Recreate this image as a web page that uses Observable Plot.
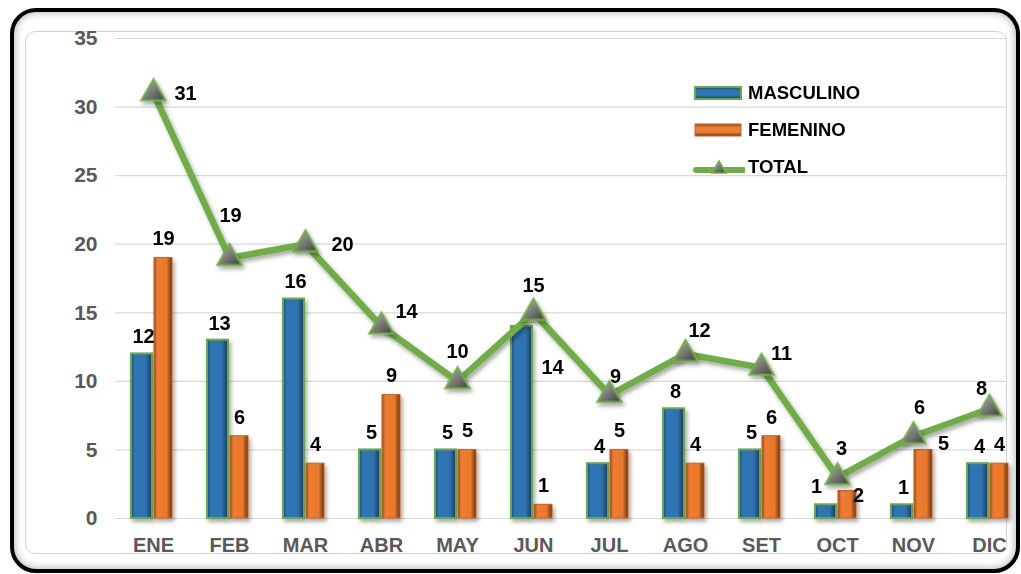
<!DOCTYPE html>
<html><head><meta charset="utf-8">
<script src="https://cdn.jsdelivr.net/npm/d3@7"></script>
<script src="https://cdn.jsdelivr.net/npm/@observablehq/plot@0.6"></script>
<style>
html,body{margin:0;padding:0;background:#fff;}
#wrap{position:relative;width:1021px;height:574px;overflow:hidden;font-family:"Liberation Sans",Arial,sans-serif;background:#fff;}
#outer{position:absolute;left:10px;top:8px;width:1002px;height:557px;border:4px solid #000;border-radius:26px;box-shadow:inset 0 0 8px rgba(0,0,0,0.35);}
#inner{position:absolute;left:25px;top:31px;width:980px;height:521px;border:1px solid #d0d0d0;border-radius:10px;}
#chart{position:absolute;left:0;top:0;}
#legend{position:absolute;left:693px;top:74px;font-weight:bold;font-size:18.5px;color:#000;}
.li{display:flex;align-items:center;height:37px;}
.li svg{margin-right:3px;}
</style>
</head><body>
<div id="wrap">
  <div id="outer"></div>
  <div id="inner"></div>
  <div id="chart"></div>
  <div id="legend"></div>
</div>
<script>
const months = ["ENE","FEB","MAR","ABR","MAY","JUN","JUL","AGO","SET","OCT","NOV","DIC"];
const masculino = [12,13,16,5,5,14,4,8,5,1,1,4];
const femenino  = [19,6,4,9,5,1,5,4,6,2,5,4];
const total     = [31,19,20,14,10,15,9,12,11,3,6,8];
const yTicks = [0,5,10,15,20,25,30,35];
const seriesNames = ["MASCULINO","FEMENINO","TOTAL"];

// label offsets (style only)
const totalOffsets = [[32,0],[1,-42],[37,0],[25,-15],[0,-30],[0,-27],[6,-18],[14,-23],[20,-14],[4,-29],[6,-29],[-8,-20]];
const mascOffsets = months.map((m,i)=> i===5 ? [29,41] : i===9 ? [-11,-18] : [0,-17]);
const femOffsets  = months.map((m,i)=> i===9 ? [11,5] : i===10 ? [20,-6] : [0,-19]);

const font = "'Liberation Sans', Arial, sans-serif";
const rows = months.map((m,i)=>({m, masc: masculino[i], fem: femenino[i], total: total[i]}));

const labelMarks = [];
rows.forEach((d,i)=>{
  labelMarks.push(Plot.text([d],{x:"m", y:"masc", text:d=>String(d.masc), dx: -10 + mascOffsets[i][0], dy: mascOffsets[i][1], fill:"#000", fontSize:20, fontWeight:"bold"}));
  labelMarks.push(Plot.text([d],{x:"m", y:"fem", text:d=>String(d.fem), dx: 10 + femOffsets[i][0], dy: femOffsets[i][1], fill:"#000", fontSize:20, fontWeight:"bold"}));
  labelMarks.push(Plot.text([d],{x:"m", y:"total", text:d=>String(d.total), dx: totalOffsets[i][0], dy: totalOffsets[i][1], fill:"#000", fontSize:20, fontWeight:"bold"}));
});

const chart = Plot.plot({
  width: 1021,
  height: 574,
  marginLeft: 115,
  marginRight: 14,
  marginTop: 38,
  marginBottom: 56,
  style: {fontFamily: font, background: "transparent", color: "#595959", overflow: "visible"},
  x: {domain: months, range: [115, 1027], padding: 0, label: null},
  y: {domain: [0, 35], label: null},
  marks: [
    Plot.gridY(yTicks, {stroke: "#d9d9d9", strokeOpacity: 1, strokeWidth: 1.2}),
    Plot.ruleY([0], {stroke: "#d0d0d0", strokeWidth: 2.5}),
    Plot.axisY(yTicks, {tickSize: 0, tickPadding: 18, fontSize: 21, fontWeight: "bold", fill: "#595959", label: null}),
    Plot.axisX({tickSize: 0, tickPadding: 19, fontSize: 20, fontWeight: "bold", fill: "#595959", label: null}),
    Plot.barY(rows, {x: "m", y: "masc", insetLeft: 16, insetRight: 39, fill: "url(#gBlue)", stroke: "#6aa843", strokeWidth: 2}),
    Plot.barY(rows, {x: "m", y: "fem", insetLeft: 39, insetRight: 19, fill: "url(#gOrange)", stroke: "#c0652a", strokeWidth: 1}),
    Plot.line(rows, {x: "m", y: "total", stroke: "#70ad47", strokeWidth: 6.5, strokeLinejoin: "round", strokeLinecap: "round"}),
    Plot.dot(rows, {x: "m", y: "total", symbol: "triangle", r: 9, fill: "url(#gTri)", stroke: "#70ad47", strokeWidth: 2}),
    ...labelMarks
  ]
});

// gradients & shadow filter
const svg = d3.select(chart);
const defs = svg.insert("defs", ":first-child");
function grad(id, stops){
  const g = defs.append("linearGradient").attr("id", id).attr("x1","0").attr("x2","1").attr("y1","0").attr("y2","0");
  stops.forEach(([o,c])=>g.append("stop").attr("offset",o).attr("stop-color",c));
}
grad("gBlue", [["0%","#1d4a75"],["18%","#2e75b6"],["70%","#2f72b0"],["100%","#163a5c"]]);
grad("gOrange", [["0%","#9b4813"],["18%","#ed7d31"],["70%","#e9782c"],["100%","#6e340c"]]);
const gt = defs.append("linearGradient").attr("id","gTri").attr("x1","0").attr("x2","1").attr("y1","0").attr("y2","1");
gt.append("stop").attr("offset","0%").attr("stop-color","#b8b8b8");
gt.append("stop").attr("offset","100%").attr("stop-color","#3e3e3e");
const f = defs.append("filter").attr("id","shadow").attr("x","-20%").attr("y","-20%").attr("width","140%").attr("height","140%");
f.append("feDropShadow").attr("dx",2).attr("dy",3).attr("stdDeviation",2).attr("flood-color","#000").attr("flood-opacity",0.35);
svg.selectAll("g[aria-label='line'], g[aria-label='bar'], g[aria-label='dot'], g[aria-label='rule']").attr("filter","url(#shadow)");

document.getElementById("chart").appendChild(chart);

// legend
const legend = d3.select("#legend");
const colors = {MASCULINO: ["url(#lgBlue)","#6aa843"], FEMENINO: ["url(#lgOrange)","#c0652a"]};
seriesNames.forEach(name=>{
  const item = legend.append("div").attr("class","li");
  const s = item.append("svg").attr("width",52).attr("height",20);
  if (name === "TOTAL") {
    s.append("line").attr("x1",3).attr("x2",50).attr("y1",13).attr("y2",13).attr("stroke","#70ad47").attr("stroke-width",6).attr("stroke-linecap","round");
    s.append("path").attr("d","M26,4 L33,16 L19,16 Z").attr("fill","url(#gTri)").attr("stroke","#70ad47").attr("stroke-width",1.5);
  } else {
    const ld = s.append("defs");
    const g = ld.append("linearGradient").attr("id", name==="MASCULINO"?"lgBlue":"lgOrange").attr("x1","0").attr("x2","0").attr("y1","0").attr("y2","1");
    const cs = name==="MASCULINO" ? ["#1d4a75","#2e75b6","#163a5c"] : ["#9b4813","#ed7d31","#6e340c"];
    g.append("stop").attr("offset","0%").attr("stop-color",cs[0]);
    g.append("stop").attr("offset","30%").attr("stop-color",cs[1]);
    g.append("stop").attr("offset","70%").attr("stop-color",cs[1]);
    g.append("stop").attr("offset","100%").attr("stop-color",cs[2]);
    s.append("rect").attr("x",2).attr("y",4).attr("width",46).attr("height",12).attr("fill",colors[name][0]).attr("stroke",colors[name][1]).attr("stroke-width",name==="MASCULINO"?2:1);
  }
  item.append("span").text(name);
});
</script>
</body></html>
